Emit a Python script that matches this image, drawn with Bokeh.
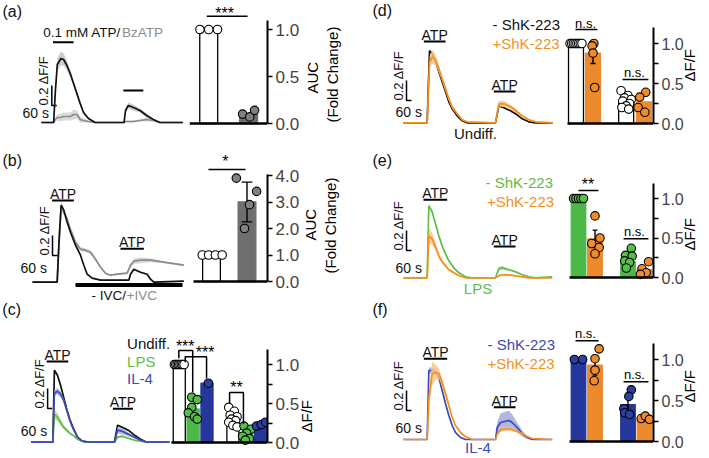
import math
from bokeh.plotting import figure
from bokeh.models import Range1d, Label, LinearAxis, FixedTicker, PrintfTickFormatter
from bokeh.layouts import row, column
from bokeh.embed import file_html
from bokeh.resources import INLINE

FONT = "Liberation Sans"
SEC_PER_PX = 12.0
DFF_PER_PX = 0.01
SCALE_T = 60.0
SCALE_DFF = 0.2

C_BLACK = "#111111"; C_GRAY = "#8c8c8c"; C_GREEN = "#62bb46"; C_BLUE = "#3a4bb3"; C_ORANGE = "#f4901e"
BAND_BLACK = "#c4c4c4"; BAND_GRAY = "#d4d4d4"; BAND_GREEN = "#b0dd9c"; BAND_BLUE = "#a3a9dd"; BAND_ORANGE = "#f9c68c"
BAR_GRAY = "#6f6f6f"; BAR_GREEN = "#4cb848"; BAR_BLUE = "#26379b"; BAR_ORANGE = "#ec8a2c"
DOT_GRAY = "#808080"; DOT_GREEN = "#52c046"; DOT_BLUE = "#2d3ea5"; DOT_ORANGE = "#f08c2a"

# ---------------- traces (time in s, dF/F) ----------------
a_time = [0, 148, 168, 192, 236, 268, 308, 348, 388, 428, 468, 508, 568, 648, 828, 996, 1014, 1048, 1108, 1188, 1268, 1348, 1428, 1704]
a_atp = [0, 0, 0.30, 0.58, 0.64, 0.63, 0.57, 0.49, 0.39, 0.29, 0.19, 0.10, 0.04, 0, 0, 0, 0.12, 0.17, 0.15, 0.12, 0.07, 0.03, 0, 0]
a_atp_sem = [0.005, 0.005, 0.04, 0.06, 0.07, 0.06, 0.05, 0.04, 0.03, 0.03, 0.02, 0.02, 0.01, 0.005, 0.005, 0.005, 0.02, 0.03, 0.03, 0.02, 0.02, 0.01, 0.005, 0.005]
a_bz = [0, 0, 0.03, 0.05, 0.05, 0.06, 0.06, 0.06, 0.08, 0.08, 0.03, 0.02, 0.01, 0, 0, 0, 0.01, 0.01, 0.01, 0.02, 0.03, 0.02, 0, 0]
a_bz_sem = [0.005, 0.005, 0.02, 0.03, 0.04, 0.04, 0.04, 0.04, 0.05, 0.04, 0.03, 0.02, 0.01, 0.005, 0.005, 0.005, 0.01, 0.01, 0.01, 0.01, 0.02, 0.01, 0.005, 0.005]
a_stim_on = [140, 988]
a_stim_off = [388, 1228]

b_minus_time = [0, 296, 318, 344, 376, 416, 456, 516, 576, 616, 656, 716, 816, 1156, 1176, 1216, 1296, 1376, 1416, 1456, 1816]
b_minus = [0, 0, 0.40, 0.77, 0.72, 0.60, 0.50, 0.37, 0.27, 0.17, 0.08, 0.04, 0.02, 0.02, 0.08, 0.13, 0.10, 0.08, 0.03, 0.0, 0.01]
b_minus_sem = [0.005, 0.005, 0.02, 0.03, 0.02, 0.02, 0.02, 0.02, 0.01, 0.01, 0.01, 0.005, 0.005, 0.005, 0.01, 0.01, 0.01, 0.01, 0.005, 0.005, 0.005]
b_plus_time = [0, 296, 318, 344, 376, 416, 456, 516, 576, 636, 696, 756, 816, 876, 936, 1016, 1136, 1176, 1216, 1296, 1416, 1576, 1816]
b_plus = [0, 0, 0.40, 0.77, 0.70, 0.63, 0.53, 0.40, 0.33, 0.32, 0.30, 0.23, 0.15, 0.09, 0.07, 0.08, 0.09, 0.17, 0.21, 0.22, 0.22, 0.20, 0.17]
b_plus_sem = [0.005, 0.005, 0.03, 0.04, 0.03, 0.02, 0.02, 0.02, 0.02, 0.02, 0.02, 0.02, 0.01, 0.01, 0.01, 0.01, 0.01, 0.02, 0.03, 0.03, 0.02, 0.01, 0.01]
b_stim_on = [236, 1056]
b_stim_off = [496, 1336]
b_ivc_on = [516]
b_ivc_off = [1800]

c_time = [0, 284, 304, 344, 384, 424, 464, 504, 544, 604, 664, 744, 1084, 1124, 1184, 1264, 1344, 1424, 1504, 1800]
c_undiff = [0, 0, 0.72, 0.67, 0.57, 0.45, 0.33, 0.23, 0.15, 0.05, 0.01, 0, 0, 0.17, 0.15, 0.12, 0.07, 0.03, 0, 0]
c_undiff_sem = [0.005, 0.005, 0.02, 0.02, 0.02, 0.02, 0.02, 0.01, 0.01, 0.01, 0.005, 0.005, 0.005, 0.01, 0.01, 0.01, 0.01, 0.005, 0.005, 0.005]
c_il4 = [0, 0, 0.49, 0.51, 0.48, 0.42, 0.32, 0.22, 0.14, 0.05, 0.01, 0, 0, 0.12, 0.11, 0.08, 0.05, 0.02, 0, 0]
c_il4_sem = [0.005, 0.005, 0.03, 0.03, 0.03, 0.02, 0.02, 0.02, 0.01, 0.01, 0.005, 0.005, 0.005, 0.03, 0.03, 0.02, 0.01, 0.005, 0.005, 0.005]
c_lps = [0, 0, 0.28, 0.25, 0.20, 0.15, 0.12, 0.09, 0.07, 0.03, 0.01, 0, 0, 0.05, 0.06, 0.04, 0.02, 0.01, 0, 0]
c_lps_sem = [0.005, 0.005, 0.05, 0.04, 0.03, 0.02, 0.02, 0.01, 0.01, 0.01, 0.005, 0.005, 0.005, 0.01, 0.01, 0.01, 0.005, 0.005, 0.005, 0.005]
c_stim_on = [204, 1064]
c_stim_off = [484, 1324]

d_time = [0, 284, 312, 344, 384, 424, 464, 504, 544, 584, 644, 704, 764, 1104, 1144, 1204, 1284, 1364, 1424, 1504, 1584, 1788]
d_minus = [0, 0, 0.72, 0.69, 0.61, 0.51, 0.41, 0.31, 0.21, 0.14, 0.07, 0.02, 0, 0, 0.17, 0.15, 0.12, 0.08, 0.04, 0.01, 0, 0]
d_minus_sem = [0.005, 0.005, 0.02, 0.02, 0.02, 0.02, 0.02, 0.01, 0.01, 0.01, 0.01, 0.005, 0.005, 0.005, 0.01, 0.01, 0.01, 0.01, 0.005, 0.005, 0.005, 0.005]
d_plus = [0, 0, 0.60, 0.66, 0.63, 0.54, 0.44, 0.34, 0.24, 0.16, 0.09, 0.03, 0.01, 0, 0.19, 0.19, 0.16, 0.11, 0.07, 0.03, 0.01, 0]
d_plus_sem = [0.005, 0.005, 0.06, 0.07, 0.05, 0.04, 0.03, 0.03, 0.02, 0.02, 0.01, 0.01, 0.005, 0.005, 0.03, 0.03, 0.02, 0.02, 0.01, 0.01, 0.005, 0.005]
d_stim_on = [244, 1084]
d_stim_off = [504, 1344]

e_time = [0, 284, 304, 344, 384, 424, 464, 504, 544, 604, 664, 744, 824, 1104, 1144, 1184, 1264, 1344, 1424, 1504, 1584, 1784]
e_minus = [0, 0, 0.72, 0.66, 0.54, 0.42, 0.32, 0.24, 0.17, 0.10, 0.05, 0.01, 0, 0, 0.09, 0.10, 0.08, 0.06, 0.03, 0.01, 0, 0.01]
e_minus_sem = [0.005, 0.005, 0.02, 0.02, 0.02, 0.02, 0.01, 0.01, 0.01, 0.01, 0.005, 0.005, 0.005, 0.005, 0.02, 0.02, 0.01, 0.01, 0.005, 0.005, 0.005, 0.005]
e_plus = [0, 0, 0.42, 0.39, 0.31, 0.22, 0.16, 0.12, 0.08, 0.05, 0.02, 0, 0, 0, 0.02, 0.03, 0.03, 0.02, 0.01, 0, 0, 0]
e_plus_sem = [0.005, 0.005, 0.08, 0.06, 0.04, 0.03, 0.02, 0.02, 0.01, 0.01, 0.005, 0.005, 0.005, 0.005, 0.01, 0.01, 0.01, 0.005, 0.005, 0.005, 0.005, 0.005]
e_stim_on = [240, 1084]
e_stim_off = [524, 1344]

f_time = [0, 284, 304, 344, 384, 424, 464, 504, 544, 584, 624, 684, 744, 824, 1104, 1124, 1164, 1264, 1304, 1364, 1424, 1484, 1544, 1784]
f_minus = [0, 0, 0.69, 0.69, 0.68, 0.62, 0.49, 0.36, 0.24, 0.14, 0.07, 0.02, 0, 0, 0, 0.12, 0.17, 0.19, 0.17, 0.12, 0.06, 0.02, 0, 0]
f_minus_sem = [0.005, 0.005, 0.03, 0.03, 0.03, 0.02, 0.02, 0.02, 0.01, 0.01, 0.01, 0.005, 0.005, 0.005, 0.005, 0.05, 0.09, 0.10, 0.08, 0.05, 0.03, 0.01, 0.005, 0.005]
f_plus = [0, 0, 0.40, 0.66, 0.67, 0.66, 0.57, 0.46, 0.34, 0.22, 0.14, 0.07, 0.03, 0, 0, 0.05, 0.10, 0.11, 0.10, 0.08, 0.06, 0.03, 0.01, 0]
f_plus_sem = [0.005, 0.005, 0.08, 0.12, 0.08, 0.05, 0.04, 0.03, 0.02, 0.02, 0.01, 0.01, 0.005, 0.005, 0.005, 0.01, 0.02, 0.02, 0.02, 0.01, 0.01, 0.005, 0.005, 0.005]
f_stim_on = [244, 1084]
f_stim_off = [524, 1344]

# ---------------- bar summaries ----------------
a_means = [1.0, 0.10]
a_pts = [[1.0, 1.0, 1.0], [0.10, 0.07, 0.14]]
b_means = [1.0, 3.0]
b_sem = [0.0, 0.75]
b_pts = [[1.0, 1.0, 1.0, 1.0], [3.9, 2.0, 2.9, 3.4]]
c_means = [1.0, 0.43, 0.76, 0.31, 0.11, 0.23]
c_pts = [[1.0] * 8, [0.58, 0.55, 0.45, 0.38, 0.33, 0.30], [0.76],
         [0.45, 0.40, 0.35, 0.33, 0.30, 0.28, 0.26, 0.22, 0.20],
         [0.21, 0.17, 0.12, 0.08, 0.05, 0.03], [0.21, 0.23, 0.26]]
d_means = [1.0, 0.88, 0.28, 0.27]
d_sem = [0.0, 0.13, 0.0, 0.0]
d_pts = [[1.0] * 8, [1.0, 0.97, 0.88, 0.45],
         [0.41, 0.35, 0.32, 0.30, 0.28, 0.25, 0.22, 0.20, 0.18], [0.39, 0.33, 0.20, 0.14]]
e_means = [1.0, 0.49, 0.20, 0.10]
e_sem = [0.0, 0.11, 0.0, 0.0]
e_pts = [[1.0] * 5, [0.78, 0.50, 0.43, 0.38, 0.30], [0.37, 0.28, 0.27, 0.21, 0.19, 0.12], [0.20, 0.11, 0.06, 0.04]]
f_means = [1.0, 0.93, 0.45, 0.27]
f_sem = [0.0, 0.12, 0.12, 0.02]
f_pts = [[1.0, 1.0], [1.13, 1.01, 0.87, 0.74], [0.63, 0.55, 0.40, 0.35, 0.33], [0.28, 0.31, 0.27]]

# dot jitter (layout, bar-slot units)
SPREAD8 = [-0.35, -0.25, -0.15, -0.05, 0.05, 0.15, 0.25, 0.35]
a_offs = [[-0.22, 0.0, 0.22], [-0.15, 0.03, 0.15]]
b_offs = [[-0.26, -0.08, 0.11, 0.30], [-0.30, -0.07, 0.07, 0.27]]
c_offs = [SPREAD8, [-0.1, 0.3, -0.1, -0.35, 0.1, 0.3], [0.1], [-0.3, 0.1, -0.2, 0.3, -0.1, 0.2, -0.3, 0.0, 0.3],
          [-0.2, 0.3, 0.0, -0.3, 0.2, -0.1], [-0.3, 0.05, 0.35]]
d_offs = [SPREAD8, [0.05, -0.05, 0.0, 0.1], [-0.3, 0.1, -0.1, 0.3, -0.2, 0.2, 0.0, -0.25, 0.15], [0.1, -0.25, -0.35, 0.05]]
e_offs = [[-0.3, -0.15, 0.0, 0.15, 0.3], [0.0, 0.3, -0.2, 0.25, 0.0], [0.2, -0.15, 0.25, -0.2, 0.1, -0.1], [0.25, -0.15, 0.1, -0.25]]
f_offs = [[-0.25, 0.25], [0.25, 0.0, 0.0, -0.05], [0.2, 0.05, -0.25, -0.2, 0.1], [-0.2, 0.05, 0.3]]


# ---------------- helpers ----------------
class Panel:
    def __init__(self, FL, FR, FT, FB, XR, x0px, base, C0, S, YB, ppu):
        self.FL, self.FT, self.FB, self.x0, self.base = FL, FT, FB, x0px, base
        self.C0, self.S, self.YB, self.ppu = C0, S, YB, ppu
        p = figure(width=FR - FL, height=FB - FT,
                   x_range=Range1d((FL - x0px) * SEC_PER_PX, (XR - x0px) * SEC_PER_PX),
                   y_range=Range1d((base - FB) * DFF_PER_PX, (base - FT) * DFF_PER_PX),
                   x_axis_location=None, y_axis_location=None, toolbar_location=None,
                   output_backend="svg", min_border_left=0, min_border_right=FR - XR,
                   min_border_top=0, min_border_bottom=0, outline_line_color=None, title=None)
        p.extra_x_ranges = {"bx": Range1d((FL - C0) / S, (XR - C0) / S)}
        p.extra_y_ranges = {"by": Range1d((YB - FB) / ppu, (YB - FT) / ppu)}
        p.grid.visible = False
        self.p = p

    def tx(self, px):
        return (px - self.x0) * SEC_PER_PX

    def ty(self, py):
        return (self.base - py) * DFF_PER_PX

    def bx(self, px):
        return (px - self.C0) / self.S

    def by(self, py):
        return (self.YB - py) / self.ppu

    def put(self, rx, ry, text, color=C_BLACK, size=14, align="left", baseline="middle", angle=0.0):
        self.p.add_layout(Label(x=self.tx(rx), y=self.ty(ry), text=text, text_color=color, text_font=FONT,
                                text_font_size=f"{size}px", text_align=align, text_baseline=baseline, angle=angle))

    def trace(self, t, y, sem, color, band):
        lo = [a - b for a, b in zip(y, sem)]
        hi = [a + b for a, b in zip(y, sem)]
        self.p.varea(x=t, y1=lo, y2=hi, fill_color=band, fill_alpha=0.85)
        self.p.line(t, y, line_color=color, line_width=1.7)

    def stim(self, on, off, levels_py, labels=True):
        lv = [self.ty(v) for v in levels_py]
        self.p.segment(x0=on, x1=off, y0=lv, y1=lv, line_color="black", line_width=2)
        if labels:
            for a, b, v in zip(on, off, levels_py):
                cx = self.x0 + (a + b) / 2 / SEC_PER_PX
                self.put(cx, v - 6.5, "ATP", size=14, align="center", baseline="middle")

    def scalebar(self, px, py_bottom, sixty_x, sixty_y):
        x0 = self.tx(px)
        y0 = self.ty(py_bottom)
        self.p.line([x0, x0, x0 + SCALE_T], [y0 + SCALE_DFF, y0, y0], line_color="black", line_width=1.5)
        self.put(px - 1, py_bottom, "0.2 \u0394F/F", size=13, align="left", baseline="bottom", angle=math.pi / 2)
        self.put(sixty_x, sixty_y, "60 s", size=14)

    def bars(self, XL, slots, width, means, sems, pts, offs, fills, lines, dotfills, ticks, minor, top,
             titles, tick_size=17, fmt="%.1f"):
        p = self.p
        rn = dict(x_range_name="bx", y_range_name="by")
        p.vbar(x=slots, top=means, width=width, bottom=0, fill_color=fills, line_color=lines,
               line_width=1.3, **rn)
        if sems is not None:
            for x, m, s in zip(slots, means, sems):
                if s > 0:
                    p.segment(x0=[x, x - 0.15, x - 0.15], x1=[x, x + 0.15, x + 0.15],
                              y0=[m - s, m - s, m + s], y1=[m + s, m - s, m + s],
                              line_color="black", line_width=1.4, **rn)
        for x, vals, off, fc in zip(slots, pts, offs, dotfills):
            p.scatter([x + o for o in off], vals, size=8.5, fill_color=fc, line_color="black",
                      line_width=1.1, **rn)
        xr = p.extra_x_ranges["bx"].end
        p.segment(x0=[self.bx(XL)], x1=[xr], y0=[0], y1=[0], line_color="black", line_width=2.4, **rn)

        ax = LinearAxis(y_range_name="by", ticker=FixedTicker(ticks=ticks, minor_ticks=minor),
                        formatter=PrintfTickFormatter(format=fmt), bounds=(0, top))
        ax.axis_line_width = 2
        ax.major_tick_line_width = 1.5
        ax.minor_tick_line_width = 1.5
        ax.major_tick_out = 5
        ax.major_tick_in = 0
        ax.minor_tick_out = 5
        ax.minor_tick_in = 0
        ax.major_label_text_font = FONT
        ax.major_label_text_font_size = f"{tick_size}px"
        ax.major_label_standoff = 3
        p.add_layout(ax, "right")

        # axis titles: a line-less axis per title whose single tick label is the title,
        # rotated to read bottom-to-top and starting at the given row
        for lab, start_py, standoff in titles:
            v = self.by(start_py)
            la = LinearAxis(y_range_name="by", ticker=FixedTicker(ticks=[v], minor_ticks=[]),
                            formatter=PrintfTickFormatter(format=lab))
            la.axis_line_color = None
            la.major_tick_line_color = None
            la.minor_tick_line_color = None
            la.major_tick_out = 0
            la.major_tick_in = 0
            la.minor_tick_out = 0
            la.minor_tick_in = 0
            la.major_label_standoff = standoff
            la.major_label_orientation = math.pi / 2
            la.major_label_text_font = FONT
            la.major_label_text_font_size = "15px"
            la.major_label_text_color = "black"
            p.add_layout(la, "right")

    def sig(self, xs, ys, text, tx_, glyph_py, size=16):
        self.p.line(xs, ys, line_color="black", line_width=1.5, x_range_name="bx", y_range_name="by")
        self.p.add_layout(Label(x=tx_, y=self.by(glyph_py), text=text, text_font=FONT, text_font_size=f"{size}px",
                                text_align="center", text_baseline="middle", text_color="black",
                                x_range_name="bx", y_range_name="by"))


# ---------------- panel (a) ----------------
A = Panel(0, 352, 0, 140, 268, 41, 122, 209, 40, 123, 94)
A.trace(a_time, a_bz, a_bz_sem, C_GRAY, BAND_GRAY)
A.trace(a_time, a_atp, a_atp_sem, C_BLACK, BAND_BLACK)
A.stim(a_stim_on, a_stim_off, [41.7, 90], labels=False)
A.scalebar(51.5, 105, 22, 112)
A.put(2, 11, "(a)", size=16)
A.put(43, 31.5, "0.1 mM ATP/", size=13.5)
A.put(122, 31.5, "BzATP", color=C_GRAY, size=13.5)
A.bars(190, [0, 1], 0.45, a_means, None, a_pts, a_offs, ["white", BAR_GRAY], ["black", BAR_GRAY],
       ["white", DOT_GRAY], [0, 0.5, 1.0], [], 1.1, [("AUC", 93, 10), ("(Fold Change)", 122, 0)])
A.sig([-0.05, 0.975], [1.14, 1.14], "***", 0.4, 13)

# ---------------- panel (b) ----------------
B = Panel(0, 352, 140, 301, 267, 32, 281.7, 211, 35.5, 281, 26.5)
B.trace(b_plus_time, b_plus, b_plus_sem, C_GRAY, BAND_GRAY)
B.trace(b_minus_time, b_minus, b_minus_sem, C_BLACK, BAND_BLACK)
B.stim(b_stim_on, b_stim_off, [200, 248.3])
ivl = B.ty(284.5)
B.p.segment(x0=b_ivc_on, x1=b_ivc_off, y0=[ivl], y1=[ivl], line_color="black", line_width=4)
B.scalebar(52, 255, 20, 267)
B.put(2, 160, "(b)", size=16)
B.put(91, 294.5, "- IVC/", size=13.5)
B.put(126, 294.5, "+IVC", color=C_GRAY, size=13.5)
B.bars(193, [0, 1], 0.5, b_means, b_sem, b_pts, b_offs, ["white", BAR_GRAY], ["black", BAR_GRAY],
       ["white", DOT_GRAY], [0, 1, 2, 3, 4], [], 4.05, [("AUC", 240, 8), ("(Fold Change)", 273, 0)])
B.sig([-0.085, 0.958], [4.23, 4.23], "*", 0.394, 161)

# ---------------- panel (c) ----------------
C = Panel(0, 352, 301, 458, 289, 33, 441.7, 193.5, 15, 442, 78)
C.trace(c_time, c_undiff, c_undiff_sem, C_BLACK, BAND_BLACK)
C.trace(c_time, c_lps, c_lps_sem, C_GREEN, BAND_GREEN)
C.trace(c_time, c_il4, c_il4_sem, C_BLUE, BAND_BLUE)
C.stim(c_stim_on, c_stim_off, [361, 408.3])
C.scalebar(51, 408, 22, 430)
C.put(2, 309, "(c)", size=16)
C.put(137, 342.5, "Undiff.", size=15)
C.put(137, 361, "LPS", color=C_GREEN, size=15)
C.put(137, 377.5, "IL-4", color=C_BLUE, size=15)
C.bars(185, [0, 1, 2, 3.87, 4.87, 5.87], 0.87, c_means, None, c_pts, c_offs,
       ["white", BAR_GREEN, BAR_BLUE, "white", BAR_GREEN, BAR_BLUE],
       ["black", BAR_GREEN, BAR_BLUE, "black", BAR_GREEN, BAR_BLUE],
       ["white", DOT_GREEN, DOT_BLUE, "white", DOT_GREEN, DOT_BLUE],
       [0, 0.5, 1.0], [0.25, 0.75], 1.19, [("\u0394F/F", 432, 4)])
C.sig([-0.03, -0.03, 0.97, 0.97], [1.08, 1.18, 1.18, 0.64], "***", 0.43, 346)
C.sig([0.43, 0.43, 1.97, 1.97], [1.03, 1.10, 1.10, 0.82], "***", 1.87, 352)
C.sig([3.63, 3.63, 4.63, 4.63], [0.50, 0.64, 0.64, 0.24], "**", 4.13, 387)

# ---------------- panel (d) ----------------
D = Panel(352, 709, 0, 140, 653, 403, 122.3, 575.5, 17, 123, 80)
D.trace(d_time, d_minus, d_minus_sem, C_BLACK, BAND_BLACK)
D.trace(d_time, d_plus, d_plus_sem, C_ORANGE, BAND_ORANGE)
D.stim(d_stim_on, d_stim_off, [41, 91])
D.scalebar(406, 100, 395, 111)
D.put(372, 10, "(d)", size=16)
D.put(492, 24, "- ShK-223", size=15)
D.put(492, 42.5, "+ShK-223", color=C_ORANGE, size=15)
D.put(475, 132.5, "Undiff.", size=15, align="center")
D.bars(567, [0, 1, 2.95, 4.0], 0.88, d_means, d_sem, d_pts, d_offs,
       ["white", BAR_ORANGE, "white", BAR_ORANGE], ["black", BAR_ORANGE, "black", BAR_ORANGE],
       ["white", DOT_ORANGE, "white", DOT_ORANGE], [0, 0.5, 1.0], [0.25, 0.75], 1.2,
       [("\u0394F/F", 81, 3)], tick_size=16)
D.sig([-0.03, 1.26], [1.175, 1.175], "n.s.", 0.56, 23, size=13)
D.sig([2.74, 4.26], [0.55, 0.55], "n.s.", 3.44, 72, size=13)

# ---------------- panel (e) ----------------
E = Panel(352, 709, 140, 301, 653, 403, 277.3, 578, 16.5, 277, 79)
E.trace(e_time, e_minus, e_minus_sem, C_GREEN, BAND_GREEN)
E.trace(e_time, e_plus, e_plus_sem, C_ORANGE, BAND_ORANGE)
E.stim(e_stim_on, e_stim_off, [199.3, 246])
E.scalebar(406, 250, 395, 267)
E.put(372, 160, "(e)", size=16)
E.put(485, 182, "- ShK-223", color=C_GREEN, size=15)
E.put(486.5, 201, "+ShK-223", color=C_ORANGE, size=15)
E.put(477.5, 287.5, "LPS", color=C_GREEN, size=15, align="center")
E.bars(569, [0, 1, 3, 4], 0.88, e_means, e_sem, e_pts, e_offs,
       [BAR_GREEN, BAR_ORANGE, BAR_GREEN, BAR_ORANGE], [BAR_GREEN, BAR_ORANGE, BAR_GREEN, BAR_ORANGE],
       [DOT_GREEN, DOT_ORANGE, DOT_GREEN, DOT_ORANGE], [0, 0.5, 1.0], [0.25, 0.75], 1.19,
       [("\u0394F/F", 250, 3)], tick_size=16)
E.sig([0.0, 1.21], [1.10, 1.10], "**", 0.58, 184)
E.sig([2.73, 4.24], [0.49, 0.49], "n.s.", 3.39, 231, size=13)

# ---------------- panel (f) ----------------
F = Panel(352, 709, 301, 458, 653, 403, 439, 578, 16.5, 441, 82)
F.trace(f_time, f_minus, f_minus_sem, C_BLUE, BAND_BLUE)
F.trace(f_time, f_plus, f_plus_sem, C_ORANGE, BAND_ORANGE)
F.stim(f_stim_on, f_stim_off, [358.3, 406.7])
F.scalebar(406, 410, 395, 427)
F.put(372, 308.5, "(f)", size=16)
F.put(487, 344, "- ShK-223", color=C_BLUE, size=15)
F.put(487, 362.5, "+ShK-223", color=C_ORANGE, size=15)
F.put(477.5, 447, "IL-4", color=C_BLUE, size=15, align="center")
F.bars(569, [0, 1, 3, 4], 0.88, f_means, f_sem, f_pts, f_offs,
       [BAR_BLUE, BAR_ORANGE, BAR_BLUE, BAR_ORANGE], [BAR_BLUE, BAR_ORANGE, BAR_BLUE, BAR_ORANGE],
       [DOT_BLUE, DOT_ORANGE, DOT_BLUE, DOT_ORANGE], [0, 0.5, 1.0], [0.25, 0.75], 1.195,
       [("\u0394F/F", 402, 3)], tick_size=16)
F.sig([-0.18, 1.21], [1.23, 1.23], "n.s.", 0.42, 333, size=13)
F.sig([2.73, 4.24], [0.73, 0.73], "n.s.", 3.39, 374, size=13)

left = column(A.p, B.p, C.p)
right = column(D.p, E.p, F.p)
layout = row(left, right)

open("out.html", "w").write(file_html(layout, INLINE))
